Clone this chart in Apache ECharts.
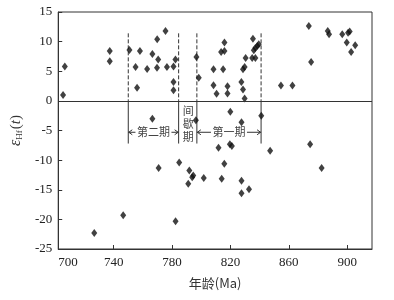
<!DOCTYPE html>
<html><head><meta charset="utf-8">
<script src="https://cdn.jsdelivr.net/npm/echarts@6/dist/echarts.min.js"></script>
<style>html,body{margin:0;padding:0;background:#fff}#c{width:394px;height:300px}</style>
</head><body><div id="c"></div><script>
// ---- data ----
const ages = [
  706.5, 705.3, 737.3, 737.3, 750.8, 755, 758, 756, 762.9, 766.5, 769.7, 770.5, 769.8, 775.5, 776.5,
  781, 782.3, 781, 781,
  796.7, 798.3, 808.4, 808.4, 810.5, 815, 813.6, 815.9, 815.9, 818, 818,
  827.5, 828.6, 829.7, 828.6, 829.7, 830.4, 834.9, 837.1, 835.4, 836, 837.1, 838.4, 839.4,
  873.7, 875.3, 854.6, 862.5, 886.7, 887.6, 896.6, 900.6, 901.7, 899.7, 905.5, 902.7,
  766.5, 796.3, 819.9, 827.6, 841.1,
  811.8, 819.6, 821, 847.2, 874.6, 882.5,
  784.9, 770.8, 791.8, 794.5, 793.8, 791.1, 801.7, 814, 815.8, 827.6, 827.6, 832.7,
  746.5, 782.4, 726.7
];
const epsHf = [
  5.8, 1.0, 8.4, 6.7, 8.6, 5.7, 8.4, 2.2, 5.4, 7.9, 5.6, 7.0, 10.4, 11.8, 5.7,
  5.8, 7.0, 3.2, 1.8,
  7.4, 3.9, 5.35, 2.65, 1.2, 5.35, 8.26, 8.43, 9.85, 2.48, 1.25,
  3.2, 1.9, 0.4, 5.35, 5.73, 7.25, 7.25, 7.25, 10.5, 8.55, 8.94, 9.27, 9.56,
  12.65, 6.58, 2.6, 2.6, 11.8, 11.25, 11.25, 11.5, 11.7, 9.85, 9.4, 8.26,
  -3.0, -3.25, -1.85, -3.6, -2.5,
  -7.9, -7.3, -7.6, -8.4, -7.3, -11.35,
  -10.4, -11.35, -11.75, -12.6, -12.9, -14.0, -13.0, -13.15, -10.6, -13.5, -15.6, -14.9,
  -19.3, -20.3, -22.3
];
const xMin = 702, xMax = 917;
const xTickValues = [740, 780, 820, 860, 900];
const xTickLabels = ['700', '740', '780', '820', '860', '900'];
const yMin = -25, yMax = 15, yInterval = 5;
const boundaryAges = [750, 784.5, 797, 841];
const dashTop = 11.4, solidBottom = -7.2;
const periods = [
  {from: 750, to: 784.5, text: '第二期'},
  {from: 797, to: 841, text: '第一期'}
];
const pause = {from: 784.5, to: 797, text: '间歇期'};
const periodLabelY = -5.3, pauseLabelY = -3.9;
const xName = '年龄(Ma)';

// ---- chart ----
const serif = '"Liberation Serif","DejaVu Serif",serif';
const cjk = '"Noto Sans CJK SC","Liberation Serif",serif';
const chart = echarts.init(document.getElementById('c'), null, {renderer: 'canvas'});
const points = ages.map((a, i) => [a, epsHf[i]]);
const labelValues = [xMin].concat(xTickValues);

function annot(params, api) {
  const ch = [];
  const ls = {stroke: '#333', lineWidth: 1};
  boundaryAges.forEach(b => {
    const a = api.coord([b, dashTop]), z = api.coord([b, 0]), s = api.coord([b, solidBottom]);
    ch.push({type: 'line', shape: {x1: a[0], y1: a[1], x2: z[0], y2: z[1]}, style: Object.assign({lineDash: [4, 2]}, ls)});
    ch.push({type: 'line', shape: {x1: z[0], y1: z[1], x2: s[0], y2: s[1]}, style: ls});
  });
  const fs = 11;
  periods.forEach(p => {
    const l = api.coord([p.from, periodLabelY]), r = api.coord([p.to, periodLabelY]);
    const cx = (l[0] + r[0]) / 2, y = l[1];
    const tw = p.text.length * fs;
    ch.push({type: 'text', style: {x: cx, y: y, text: p.text, fill: '#444', font: fs + 'px ' + cjk, align: 'center', verticalAlign: 'middle'}});
    const tl = cx - tw / 2 - 1.5, tr = cx + tw / 2 + 1.5;
    ch.push({type: 'line', shape: {x1: l[0], y1: y, x2: tl, y2: y}, style: ls});
    ch.push({type: 'polyline', shape: {points: [[l[0] + 4, y - 2.5], [l[0] + 0.5, y], [l[0] + 4, y + 2.5]]}, style: Object.assign({fill: null}, ls)});
    ch.push({type: 'line', shape: {x1: tr, y1: y, x2: r[0], y2: y}, style: ls});
    ch.push({type: 'polyline', shape: {points: [[r[0] - 4, y - 2.5], [r[0] - 0.5, y], [r[0] - 4, y + 2.5]]}, style: Object.assign({fill: null}, ls)});
  });
  const pl = api.coord([pause.from, pauseLabelY]), pr = api.coord([pause.to, pauseLabelY]);
  ch.push({type: 'text', style: {x: (pl[0] + pr[0]) / 2 + 0.5, y: pl[1], text: pause.text.split('').join('\n'), fill: '#444', font: fs + 'px ' + cjk, lineHeight: 13, align: 'center', verticalAlign: 'middle'}});
  return {type: 'group', children: ch};
}

chart.setOption({
  animation: false,
  grid: {left: 53, right: 22, top: 12, bottom: 51, show: true, borderColor: '#333', borderWidth: 1, backgroundColor: 'transparent'},
  xAxis: {
    type: 'value', min: xMin, max: xMax,
    axisLine: {show: true, onZero: false, lineStyle: {color: '#333', width: 1}},
    axisTick: {show: true, inside: true, length: 4, customValues: xTickValues, lineStyle: {color: '#333'}},
    axisLabel: {customValues: labelValues, alignMinLabel: 'left', margin: 7, fontFamily: serif, fontSize: 13, color: '#222',
      formatter: v => xTickLabels[labelValues.indexOf(v)] || ''},
    splitLine: {show: false},
    name: xName, nameLocation: 'middle', nameGap: 28,
    nameTextStyle: {fontFamily: cjk, fontSize: 13, color: '#333'}
  },
  yAxis: {
    type: 'value', min: yMin, max: yMax, interval: yInterval,
    axisLine: {show: true, onZero: false, lineStyle: {color: '#333', width: 1}},
    axisTick: {show: true, inside: true, length: 4, lineStyle: {color: '#333'}},
    axisLabel: {margin: 6, fontFamily: serif, fontSize: 13, color: '#222'},
    splitLine: {show: false},
    name: '{e|ε}{s|Hf}{p|(}{t|t}{p|)}', nameLocation: 'middle', nameGap: 32, nameRotate: 90,
    nameTextStyle: {
      color: '#333',
      rich: {
        e: {fontFamily: serif, fontStyle: 'italic', fontSize: 16, color: '#333'},
        s: {fontFamily: serif, fontSize: 9, color: '#333', padding: [7, 1, 0, 0]},
        p: {fontFamily: serif, fontSize: 15, color: '#333'},
        t: {fontFamily: serif, fontStyle: 'italic', fontSize: 15, color: '#333'}
      }
    }
  },
  series: [
    {
      type: 'custom', data: [[0]], renderItem: annot, silent: true, z: 1, clip: false
    },
    {
      type: 'scatter', data: points, symbol: 'diamond', symbolSize: [6, 8], z: 3,
      itemStyle: {color: '#111'},
      markLine: {silent: true, symbol: 'none', label: {show: false},
        lineStyle: {color: '#333', type: 'solid', width: 1}, data: [{yAxis: 0}]}
    }
  ]
});
</script></body></html>
